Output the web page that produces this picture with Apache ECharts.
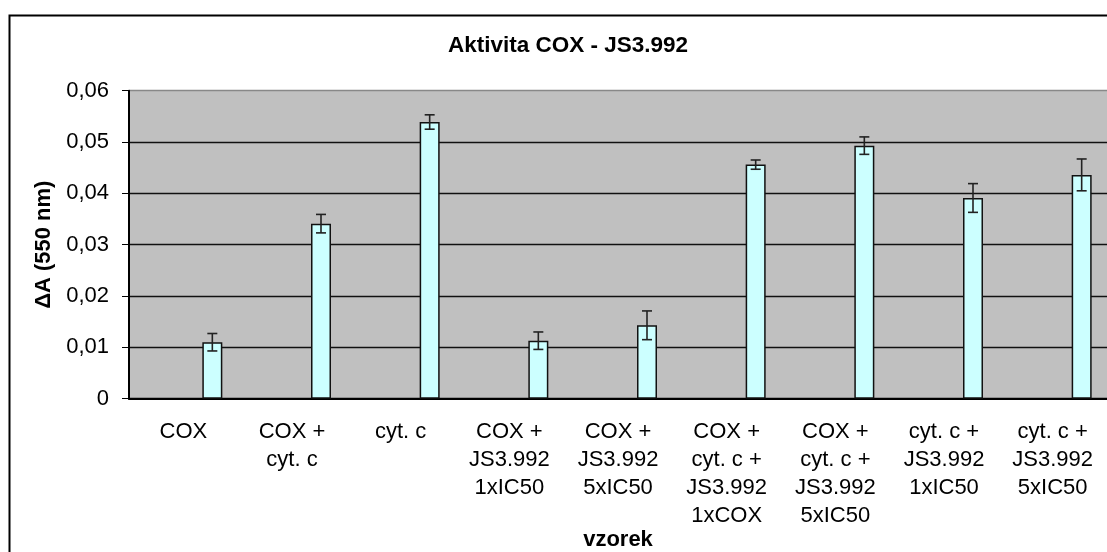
<!DOCTYPE html>
<html>
<head>
<meta charset="utf-8">
<script src="https://cdn.jsdelivr.net/npm/echarts@6/dist/echarts.min.js"></script>
<style>html,body{margin:0;padding:0;background:#fff;}#c{width:1107px;height:552px;}</style>
</head>
<body>
<div id="c"></div>
<script>
const categories = [
  'COX',
  'COX +\ncyt. c',
  'cyt. c',
  'COX +\nJS3.992\n1xIC50',
  'COX +\nJS3.992\n5xIC50',
  'COX +\ncyt. c +\nJS3.992\n1xCOX',
  'COX +\ncyt. c +\nJS3.992\n5xIC50',
  'cyt. c +\nJS3.992\n1xIC50',
  'cyt. c +\nJS3.992\n5xIC50'
];
const values = [0.0110, 0.0341, 0.0539, 0.0113, 0.0143, 0.0456, 0.0493, 0.0391, 0.0436];
const errors = [0.0017, 0.0018, 0.0014, 0.0017, 0.0028, 0.0009, 0.0017, 0.0028, 0.0031];
const emptySeries = categories.map(() => null);

const BAR_W = 20, BAR_GAP = 1.9;
const OFFSET = BAR_W / 2 + BAR_W * BAR_GAP / 2;
const FONT = '"Liberation Sans", Arial, sans-serif';

const chart = echarts.init(document.getElementById('c'), null, {renderer: 'canvas'});
chart.setOption({
  animation: false,
  backgroundColor: '#fff',
  title: {
    text: 'Aktivita COX - JS3.992',
    left: 563, top: 29, textAlign: 'center',
    textStyle: {fontFamily: FONT, fontWeight: 'bold', fontSize: 22.5, color: '#000'}
  },
  graphic: [{
    type: 'rect', left: 7, top: 13, z: -1,
    shape: {width: 1200, height: 700},
    style: {fill: 'none', stroke: '#000', lineWidth: 2}
  }],
  grid: {
    left: 129, right: 0, top: 90.7, bottom: 153.3,
    outerBoundsMode: 'none', containLabel: false,
    show: true, backgroundColor: '#C0C0C0', borderWidth: 0
  },
  xAxis: {
    type: 'category', data: categories,
    name: 'vzorek', nameLocation: 'middle', nameGap: 130, nameMoveOverlap: false,
    nameTextStyle: {fontFamily: FONT, fontWeight: 'bold', fontSize: 22, color: '#000'},
    axisLine: {lineStyle: {color: '#000', width: 2}},
    axisTick: {length: 7, lineStyle: {color: '#000', width: 1}},
    axisLabel: {fontFamily: FONT, fontSize: 22, color: '#000', lineHeight: 28, margin: 19, interval: 0}
  },
  yAxis: {
    type: 'value', min: 0, max: 0.06, interval: 0.01,
    name: 'ΔA (550 nm)', nameLocation: 'middle', nameGap: 74, nameRotate: 90, nameMoveOverlap: false,
    nameTextStyle: {fontFamily: FONT, fontWeight: 'bold', fontSize: 22, color: '#000'},
    axisLine: {show: true, lineStyle: {color: '#000', width: 2}},
    axisTick: {show: true, length: 7, lineStyle: {color: '#000', width: 1}},
    axisLabel: {
      fontFamily: FONT, fontSize: 22, color: '#000', margin: 20,
      formatter: v => v === 0 ? '0' : v.toFixed(2).replace('.', ',')
    },
    splitLine: {lineStyle: {color: ['#000', '#111', '#111', '#111', '#111', '#111', '#888'], width: 1.3}}
  },
  series: [
    {type: 'bar', data: emptySeries, barWidth: BAR_W, barGap: (BAR_GAP * 100) + '%'},
    {
      type: 'bar', data: values, barWidth: BAR_W,
      itemStyle: {color: '#CCFFFF', borderColor: '#111', borderWidth: 1.5}
    },
    {
      type: 'custom', z: 10,
      data: values.map((v, i) => [i, v - errors[i], v + errors[i]]),
      renderItem: function (params, api) {
        const lo = api.coord([api.value(0), api.value(1)]);
        const hi = api.coord([api.value(0), api.value(2)]);
        const x = lo[0] + OFFSET;
        const cap = 5;
        const st = {stroke: '#222', lineWidth: 1.6};
        return {
          type: 'group',
          children: [
            {type: 'line', shape: {x1: x, y1: lo[1], x2: x, y2: hi[1]}, style: st},
            {type: 'line', shape: {x1: x - cap, y1: lo[1], x2: x + cap, y2: lo[1]}, style: st},
            {type: 'line', shape: {x1: x - cap, y1: hi[1], x2: x + cap, y2: hi[1]}, style: st}
          ]
        };
      }
    }
  ]
});
</script>
</body>
</html>
